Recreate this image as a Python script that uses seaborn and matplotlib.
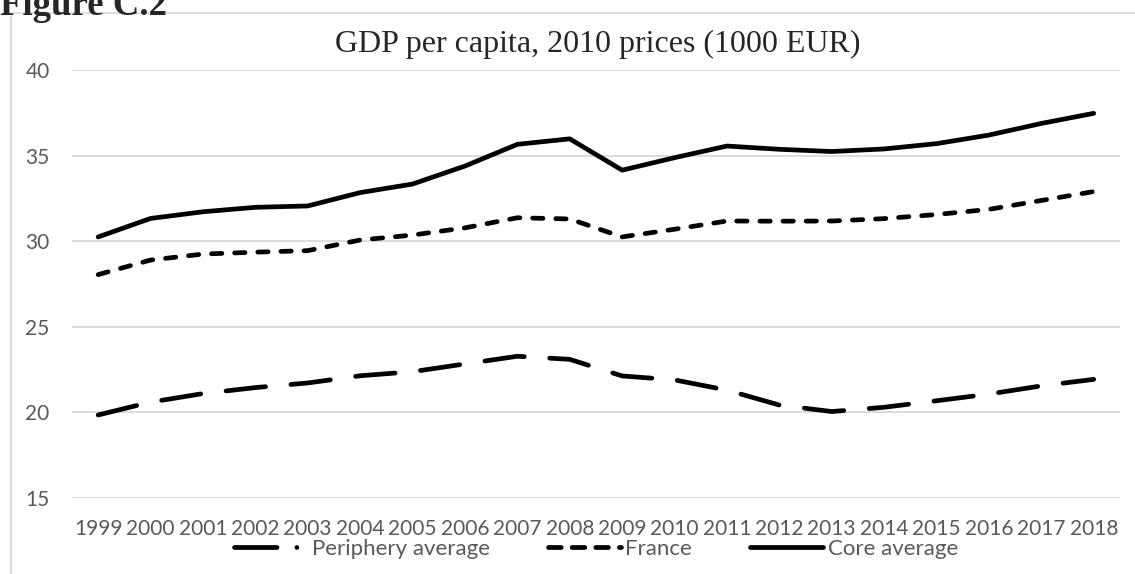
import pandas as pd
import matplotlib.pyplot as plt
import seaborn as sns
from matplotlib.lines import Line2D
from matplotlib.patches import Rectangle

# GDP per capita, 2010 prices (1000 EUR)
years = [str(y) for y in range(1999, 2019)]
periphery = [19.85, 20.6, 21.1, 21.45, 21.72, 22.14, 22.38, 22.83, 23.28, 23.1,
             22.13, 21.9, 21.3, 20.43, 20.05, 20.3, 20.68, 21.07, 21.55, 21.93]
france = [28.05, 28.9, 29.25, 29.36, 29.45, 30.07, 30.36, 30.78, 31.37, 31.3,
          30.25, 30.7, 31.18, 31.17, 31.18, 31.32, 31.56, 31.86, 32.38, 32.9]
core = [30.25, 31.33, 31.72, 31.98, 32.06, 32.84, 33.34, 34.39, 35.66, 35.98,
        34.15, 34.88, 35.56, 35.37, 35.24, 35.39, 35.7, 36.2, 36.88, 37.47]

df = pd.DataFrame({"Year": years, "Periphery average": periphery,
                   "France": france, "Core average": core})
long_df = df.melt(id_vars="Year", var_name="Series", value_name="GDP")
long_df["x"] = long_df["Year"].astype(int) - 1999

sns.set_style("white")
plt.rcParams["font.family"] = ["Lato", "DejaVu Sans"]

fig = plt.figure(figsize=(11.35, 5.74), dpi=100)
ax = fig.add_axes([0.0634, 0.1324, 0.9233, 0.7456])

lw = 3.4
styles = {
    "Periphery average": (8.4, 5.4),
    "France": (2.2, 2.7),
    "Core average": "",
}
sns.lineplot(data=long_df, x="x", y="GDP", hue="Series", style="Series",
             palette=["black"] * 3, dashes=styles, linewidth=lw,
             legend=False, ax=ax)
for line in ax.lines:
    line.set_dash_capstyle("round")
    line.set_solid_capstyle("round")

ax.set_xlim(-0.5, 19.5)
ax.set_ylim(15, 40)
ax.set_yticks([15, 20, 25, 30, 35, 40])
ax.set_xticks(range(20))
ax.set_xticklabels(years)
ax.set_xlabel("")
ax.set_ylabel("")
ax.yaxis.grid(True, color="#d9d9d9", linewidth=1.3)
ax.xaxis.grid(False)
for s in ax.spines.values():
    s.set_visible(False)
ax.tick_params(axis="both", length=0, labelsize=15, labelcolor="#595959")
ax.tick_params(axis="y", pad=16)
ax.tick_params(axis="x", pad=15)

# chart frame and headings
fig.patches.append(Rectangle((11 / 1135, -0.1), 1.2, 1 - 13 / 574 + 0.1,
                             transform=fig.transFigure, fill=False,
                             edgecolor="#d9d9d9", linewidth=1.3))
fig.text(0.0, 1 - 15 / 574, "Figure C.2", family="Liberation Serif",
         fontweight="bold", fontsize=26.5, va="baseline", ha="left")
fig.text(598 / 1135, 1 - 44 / 574, "GDP per capita, 2010 prices (1000 EUR)",
         family="Liberation Serif", fontsize=23, va="center", ha="center")

handles = [
    Line2D([], [], color="black", linewidth=lw, dashes=(9.0, 4.2, 0.01, 4.2),
           dash_capstyle="round"),
    Line2D([], [], color="black", linewidth=lw, dashes=(2.7, 2.3),
           dash_capstyle="round"),
    Line2D([], [], color="black", linewidth=lw, solid_capstyle="round"),
]
fig.legend(handles, ["Periphery average", "France", "Core average"],
           loc="center", bbox_to_anchor=(596 / 1135, 1 - 549 / 574), ncol=3,
           frameon=False, fontsize=16, labelcolor="#595959", handlelength=3.3,
           handletextpad=0.2, columnspacing=2.6)

fig.savefig("out.png", dpi=100)
